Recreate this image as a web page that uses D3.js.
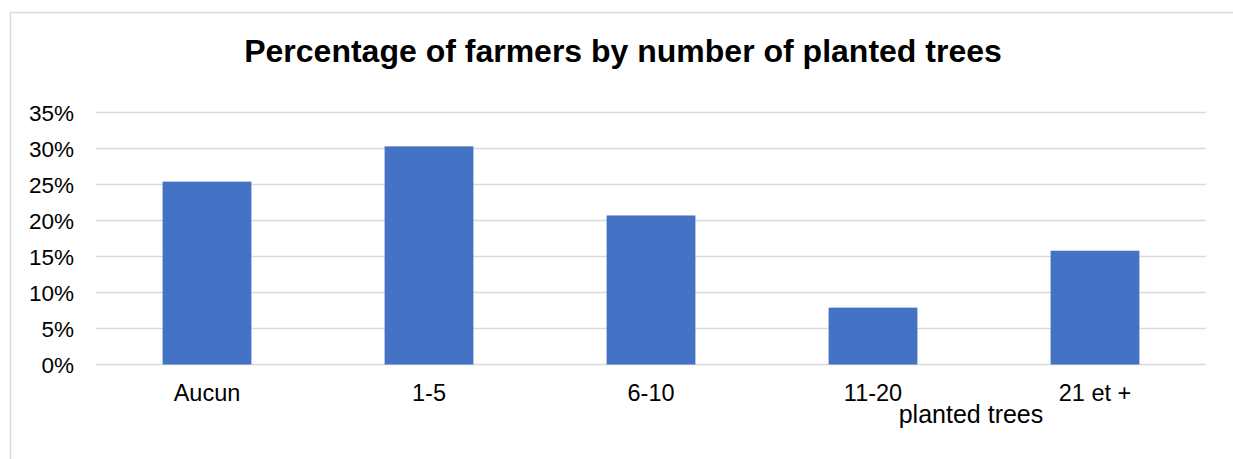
<!DOCTYPE html>
<html>
<head>
<meta charset="utf-8">
<script src="https://cdn.jsdelivr.net/npm/d3@7"></script>
<style>
  html, body { margin: 0; padding: 0; background: #fff; }
  svg { display: block; }
  text { font-family: "Liberation Sans", Arial, sans-serif; fill: #000; }
</style>
</head>
<body>
<svg id="chart" width="1233" height="459"></svg>
<script>
const categories = ["Aucun", "1-5", "6-10", "11-20", "21 et +"];
const shares = [25.4, 30.3, 20.7, 7.9, 15.8];
const yTicks = [0, 5, 10, 15, 20, 25, 30, 35];
const title = "Percentage of farmers by number of planted trees";
const xTitle = "planted trees";

const svg = d3.select("#chart");
const W = 1233, H = 459;
const plot = { left: 96, right: 1206, top: 112.5, bottom: 364.5 };
const FONT = "Liberation Sans, Arial, sans-serif";

// chart frame
svg.append("rect")
  .attr("x", 10.5).attr("y", 12.5)
  .attr("width", W).attr("height", H)
  .attr("fill", "#fff").attr("stroke", "#d9d9d9").attr("stroke-width", 1.5);

const x = d3.scaleBand().domain(categories)
  .range([plot.left, plot.right]).paddingInner(0.6).paddingOuter(0.3);
const y = d3.scaleLinear().domain([0, 35]).range([plot.bottom, plot.top]);

// gridlines
svg.append("g").selectAll("line").data(yTicks).join("line")
  .attr("x1", plot.left).attr("x2", plot.right)
  .attr("y1", d => y(d)).attr("y2", d => y(d))
  .attr("stroke", "#d9d9d9").attr("stroke-width", 1.5);

// y axis labels
const yAxis = d3.axisLeft(y).tickValues(yTicks).tickFormat(d => d + "%").tickSize(0).tickPadding(0);
const gy = svg.append("g").attr("transform", `translate(${plot.left - 22},0)`).call(yAxis);
gy.select(".domain").remove();
gy.selectAll("text").attr("font-size", 22.5).attr("font-family", FONT).attr("fill", "#000")
  .attr("dy", "0.36em");

// bars
svg.append("g").selectAll("rect").data(categories).join("rect")
  .attr("x", d => x(d))
  .attr("width", x.bandwidth())
  .attr("y", (d, i) => y(shares[i]))
  .attr("height", (d, i) => y(0) - y(shares[i]))
  .attr("fill", "#4472c4");

// x axis labels
const xAxis = d3.axisBottom(x).tickSize(0).tickPadding(0);
const gx = svg.append("g").attr("transform", `translate(0,${plot.bottom})`).call(xAxis);
gx.select(".domain").remove();
gx.selectAll("text").attr("font-size", 23.5).attr("font-family", FONT).attr("fill", "#000")
  .attr("y", 36.5).attr("dy", null);

// axis title
svg.append("text")
  .attr("x", 971).attr("y", 423)
  .attr("text-anchor", "middle").attr("font-size", 25)
  .text(xTitle);

// chart title
svg.append("text")
  .attr("x", 623).attr("y", 62)
  .attr("text-anchor", "middle").attr("font-size", 32).attr("font-weight", "bold")
  .text(title);
</script>
</body>
</html>
